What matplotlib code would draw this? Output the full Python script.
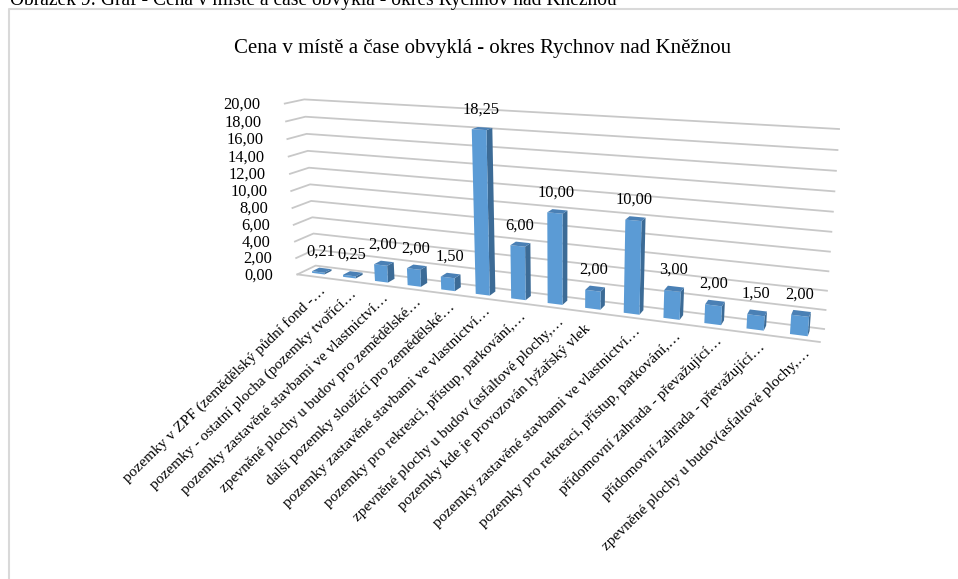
"""
plot.py

Perspective column chart of land prices per category, drawn on a flat axes
whose units are pixels. Box corners set up a camera, project() does the rest.
"""

import numpy as np
import matplotlib
matplotlib.use('Agg')
import matplotlib.pyplot as plt
from matplotlib.patches import Polygon

plt.rcParams['font.family'] = ['Liberation Serif', 'DejaVu Serif']

WIDTH = 958
HEIGHT = 579

caption = 'Obrázek 9: Graf - Cena v místě a čase obvyklá - okres Rychnov nad Kněžnou'
title = 'Cena v místě a čase obvyklá - okres Rychnov nad Kněžnou'

categories = [
    'pozemky v ZPF (zemědělský půdní fond -…',
    'pozemky - ostatní plocha (pozemky tvořící…',
    'pozemky zastavěné stavbami ve vlastnictví…',
    'zpevněné plochy u budov pro zemědělské…',
    'další pozemky sloužící pro zemědělské…',
    'pozemky zastavěné stavbami ve vlastnictví…',
    'pozemky pro rekreaci, přístup, parkování,…',
    'zpevněné plochy u budov (asfaltové plochy,…',
    'pozemky kde je provozován lyžařský vlek',
    'pozemky zastavěné stavbami ve vlastnictví…',
    'pozemky pro rekreaci, přístup, parkování,…',
    'přídomovní zahrada - převažující…',
    'přídomovní zahrada - převažující…',
    'zpevněné plochy u budov(asfaltové plochy,…',
]
values = [0.21, 0.25, 2.0, 2.0, 1.5, 18.25, 6.0, 10.0, 2.0, 10.0, 3.0, 2.0, 1.5, 2.0]
y_ticks = [0, 2, 4, 6, 8, 10, 12, 14, 16, 18, 20]

FRONT_COLOR = '#5b9bd5'
SIDE_COLOR = '#3c6b96'
TOP_COLOR = '#4a80b5'
GRID_COLOR = '#c8c8c8'
BORDER_COLOR = '#d9d9d9'

BAR_HALF = 0.2
BAR_BACK = 0.3
BAR_FRONT = 0.7


def fit_camera():
    # box corners as (category, value, depth) -> pixel, depth 0 is the back wall
    n = len(categories)
    corners = [
        ((0, 0, 0), (315, 266)),
        ((n, 0, 0), (824, 329)),
        ((0, 20, 0), (305, 99)),
        ((n, 20, 0), (839, 129)),
        ((0, 0, 1), (298, 274)),
        ((n, 0, 1), (820, 342)),
        ((0, 20, 1), (284, 104)),
    ]
    rows = []
    rhs = []
    for (x, y, z), (u, v) in corners:
        rows.append([x, y, z, 1, 0, 0, 0, 0, -u * x, -u * y, -u * z])
        rows.append([0, 0, 0, 0, x, y, z, 1, -v * x, -v * y, -v * z])
        rhs += [u, v]
    sol = np.linalg.lstsq(np.array(rows, float), np.array(rhs, float), rcond=None)[0]
    return np.append(sol, 1.0).reshape(3, 4)


CAMERA = fit_camera()


def project(x, y, z):
    u, v, w = CAMERA @ np.array([x, y, z, 1.0])
    return u / w, v / w


def draw_grid(ax):
    n = len(categories)
    for tick in y_ticks:
        pts = [project(0, tick, 1), project(0, tick, 0), project(n, tick, 0)]
        ax.plot(*zip(*pts), color=GRID_COLOR, lw=1.3, zorder=1)
        px, py = project(0, tick, 1)
        ax.text(px - 24, py + 1, '{:.2f}'.format(tick).replace('.', ','), ha='right',
                va='center', fontsize=11.8, color='black', zorder=5)
    pts = [project(0, 0, 1), project(n, 0, 1)]
    ax.plot(*zip(*pts), color=GRID_COLOR, lw=1.3, zorder=1)


def draw_bar(ax, pos, value):
    left = pos + 0.5 - BAR_HALF
    right = pos + 0.5 + BAR_HALF
    front = [project(left, 0, BAR_FRONT), project(right, 0, BAR_FRONT),
             project(right, value, BAR_FRONT), project(left, value, BAR_FRONT)]
    side = [project(right, 0, BAR_FRONT), project(right, 0, BAR_BACK),
            project(right, value, BAR_BACK), project(right, value, BAR_FRONT)]
    top = [project(left, value, BAR_FRONT), project(right, value, BAR_FRONT),
           project(right, value, BAR_BACK), project(left, value, BAR_BACK)]
    ax.add_patch(Polygon(side, closed=True, fc=SIDE_COLOR, ec='none', zorder=2))
    ax.add_patch(Polygon(front, closed=True, fc=FRONT_COLOR, ec='none', zorder=2))
    ax.add_patch(Polygon(top, closed=True, fc=TOP_COLOR, ec='none', zorder=2))


def main():
    fig = plt.figure(figsize=(WIDTH / 100, HEIGHT / 100), dpi=100)
    ax = fig.add_axes([0, 0, 1, 1])
    ax.set_xlim(0, WIDTH)
    ax.set_ylim(HEIGHT, 0)
    ax.axis('off')

    # chart frame, open on the bottom and right like a cropped page
    ax.plot([9.5, 9.5, WIDTH], [HEIGHT, 9, 9], color=BORDER_COLOR, lw=1.5, zorder=1)

    ax.text(10, 5, caption, ha='left', va='baseline', fontsize=14.05, color='black')
    ax.text(482.5, 48, title, ha='center', va='center', fontsize=15.05, color='black')

    draw_grid(ax)

    for pos, value in enumerate(values):
        draw_bar(ax, pos, value)

        px, py = project(pos + 0.5, value, 0.5)
        ax.text(px - 1, py - 19, '{:.2f}'.format(value).replace('.', ','), ha='center',
                va='center', fontsize=11.8, color='black', zorder=5)

        px, py = project(pos + 0.5, 0, 1)
        # untruncated labels sit a little further along the slant
        if not categories[pos].endswith('…'):
            px, py = px - 11, py + 3
        ax.text(px + 5.5, py + 7, categories[pos], ha='right', va='top', rotation=44,
                rotation_mode='anchor', fontsize=11.1, color='black', zorder=5)

    fig.savefig('out.png', dpi=100)
    plt.close(fig)


if __name__ == '__main__':
    main()
